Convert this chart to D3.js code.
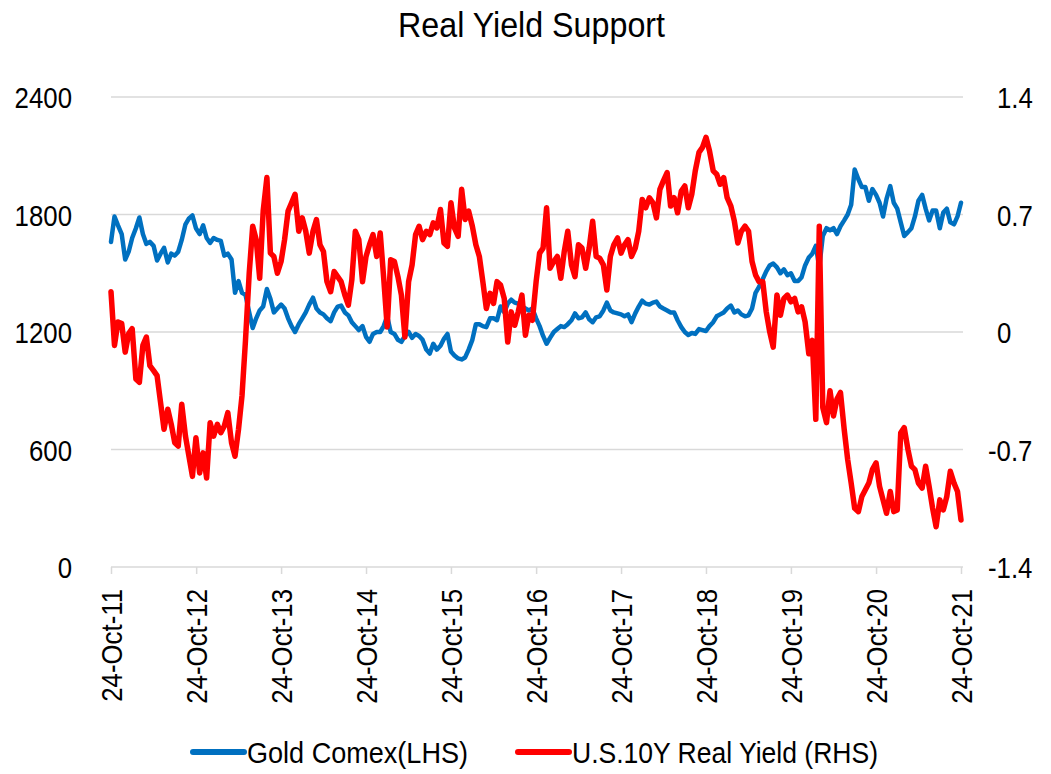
<!DOCTYPE html>
<html><head><meta charset="utf-8">
<script src="https://cdn.jsdelivr.net/npm/d3@7"></script>
<style>
body{margin:0;background:#fff;}
svg{display:block;}
text{font-family:"Liberation Sans",Arial,sans-serif;fill:#000;}
</style></head><body>
<svg id="c" width="1051" height="774"></svg>
<script>
const title = "Real Yield Support";
const xTickLabels = ["24-Oct-11","24-Oct-12","24-Oct-13","24-Oct-14","24-Oct-15","24-Oct-16","24-Oct-17","24-Oct-18","24-Oct-19","24-Oct-20","24-Oct-21"];
const leftTicks = [0, 600, 1200, 1800, 2400];
const rightTicks = [-1.4, -0.7, 0, 0.7, 1.4];
const seriesNames = ["Gold Comex(LHS)", "U.S.10Y Real Yield (RHS)"];
const startDate = "2011-10-24";
const endDate = "2021-10-24";

// semi-monthly readings, 24-Oct-2011 .. 24-Oct-2021
const gold = [
1660,1790,1745,1700,1570,1610,1680,1730,1785,1700,1650,1660,1640,1565,1600,1630,1555,1600,1590,1610,1670,1750,1780,1795,
1730,1700,1745,1680,1655,1680,1670,1665,1590,1600,1570,1400,1460,1400,1390,1300,1220,1270,1310,1330,1420,1370,1300,1320,
1340,1320,1270,1230,1200,1240,1270,1300,1340,1375,1320,1300,1290,1270,1255,1300,1330,1335,1300,1285,1250,1230,1210,1230,
1175,1150,1190,1200,1200,1230,1280,1200,1190,1160,1150,1180,1200,1170,1190,1180,1160,1110,1090,1140,1110,1130,1165,1190,
1100,1080,1065,1060,1070,1110,1160,1240,1240,1230,1225,1270,1270,1260,1330,1300,1345,1365,1350,1345,1330,1320,1310,1320,
1270,1230,1180,1140,1170,1200,1215,1230,1225,1240,1260,1295,1270,1275,1300,1265,1250,1275,1280,1310,1350,1310,1300,1295,
1290,1280,1290,1250,1295,1330,1360,1345,1340,1350,1355,1330,1320,1310,1300,1300,1260,1225,1200,1185,1195,1190,1215,1210,
1205,1230,1250,1280,1290,1300,1320,1335,1300,1310,1290,1280,1285,1320,1400,1430,1470,1510,1540,1550,1530,1500,1520,1490,
1500,1460,1460,1480,1540,1580,1600,1640,1530,1690,1730,1720,1730,1700,1740,1770,1800,1850,2030,1980,1940,1940,1870,1930,
1900,1860,1790,1880,1945,1860,1830,1760,1690,1710,1730,1790,1870,1900,1830,1770,1820,1820,1730,1810,1830,1760,1750,1790,
1860
];
const realYield = [
0.24,-0.08,0.06,0.05,-0.12,-0.01,0.02,-0.28,-0.30,-0.08,-0.03,-0.20,-0.23,-0.26,-0.42,-0.58,-0.46,-0.55,-0.66,-0.68,-0.43,-0.62,-0.74,-0.86,
-0.63,-0.84,-0.72,-0.87,-0.54,-0.62,-0.55,-0.60,-0.56,-0.48,-0.66,-0.74,-0.58,-0.38,-0.05,0.35,0.63,0.55,0.32,0.72,0.92,0.47,0.45,0.35,
0.42,0.55,0.72,0.77,0.82,0.60,0.68,0.60,0.47,0.60,0.67,0.52,0.48,0.30,0.24,0.36,0.33,0.30,0.22,0.16,0.31,0.60,0.55,0.30,
0.45,0.52,0.58,0.45,0.59,0.32,0.03,0.43,0.42,0.33,0.22,-0.03,0.30,0.40,0.58,0.63,0.55,0.60,0.58,0.65,0.62,0.73,0.53,0.51,
0.77,0.62,0.57,0.85,0.67,0.72,0.63,0.52,0.45,0.30,0.14,0.23,0.17,0.30,0.28,0.20,-0.06,0.12,0.04,0.12,0.22,-0.02,0.10,0.07,
0.30,0.47,0.50,0.74,0.38,0.42,0.45,0.32,0.48,0.60,0.40,0.33,0.52,0.50,0.38,0.50,0.66,0.45,0.44,0.40,0.25,0.45,0.52,0.56,
0.47,0.52,0.55,0.45,0.50,0.60,0.79,0.74,0.80,0.77,0.68,0.85,0.90,0.95,0.75,0.80,0.71,0.84,0.87,0.74,0.82,0.96,1.07,1.10,
1.16,1.08,0.96,0.94,0.88,0.92,0.80,0.75,0.66,0.53,0.60,0.63,0.60,0.42,0.34,0.30,0.30,0.12,0.00,-0.09,0.22,0.10,0.20,0.22,
0.18,0.20,0.12,0.15,0.06,-0.13,-0.05,-0.52,0.63,-0.45,-0.54,-0.35,-0.50,-0.40,-0.36,-0.58,-0.76,-0.90,-1.05,-1.07,-0.98,-0.94,-0.90,-0.82,
-0.78,-0.92,-1.00,-1.08,-0.95,-1.07,-1.06,-0.60,-0.57,-0.70,-0.80,-0.82,-0.90,-0.93,-0.80,-0.92,-1.05,-1.16,-1.00,-1.06,-0.98,-0.83,-0.90,-0.95,
-1.12
];

const parse = d3.timeParse("%Y-%m-%d");
const t0 = parse(startDate), t1 = parse(endDate);
const nSteps = gold.length - 1;
const totalDays = d3.timeDay.count(t0, t1);
const dates = gold.map((_, i) => d3.timeDay.offset(t0, Math.round(i * totalDays / nSteps)));
const tickDates = xTickLabels.map(s => d3.timeParse("%d-%b-%y")(s));

const SX = 0.86; // horizontal condensing of the label font
const svg = d3.select("#c");
const x = d3.scaleTime().domain([t0, t1]).range([111, 961]);
const yL = d3.scaleLinear().domain([0, 2400]).range([567, 97]);
const yR = d3.scaleLinear().domain([-1.4, 1.4]).range([567, 97]);

// title
svg.append("text").attr("x", 531.5).attr("y", 37).attr("text-anchor", "middle")
  .attr("font-size", 35).attr("textLength", 267).attr("lengthAdjust", "spacingAndGlyphs").text(title);

// gridlines
svg.append("g").selectAll("line").data(leftTicks).join("line")
  .attr("x1", 111).attr("x2", 963).attr("y1", d => yL(d)).attr("y2", d => yL(d))
  .attr("stroke", "#d9d9d9").attr("stroke-width", 1.5);

// left axis
const axL = svg.append("g").attr("transform", "translate(72,0)")
  .call(d3.axisLeft(yL).tickValues(leftTicks).tickSize(0).tickPadding(0).tickFormat(d => String(d)));
axL.select(".domain").remove();
axL.selectAll("text").attr("font-size", 30).attr("font-family", null).attr("x", 0).attr("dy", "0.35em")
  .attr("transform", `scale(${SX},1)`);

// right axis
const axR = svg.append("g").attr("transform", "translate(997,0)")
  .call(d3.axisRight(yR).tickValues(rightTicks).tickSize(0).tickPadding(0).tickFormat(d => String(d)));
axR.select(".domain").remove();
axR.selectAll("text").attr("font-size", 30).attr("font-family", null).attr("dy", "0.35em")
  .attr("x", d => d < 0 ? -9 / SX : 0).attr("transform", `scale(${SX},1)`);

// bottom axis
const axB = svg.append("g").attr("transform", "translate(0,567)")
  .call(d3.axisBottom(x).tickValues(tickDates).tickSize(7).tickFormat((d, i) => xTickLabels[i]));
axB.select(".domain").remove();
axB.selectAll(".tick line").attr("stroke", "#d9d9d9").attr("stroke-width", 1.5);
axB.selectAll("text").attr("font-size", 30).attr("font-family", null)
  .attr("transform", `rotate(-90) scale(${SX},1)`).attr("text-anchor", "end")
  .attr("x", -22 / SX).attr("y", 0).attr("dy", "0.36em");

// lines
const lineG = d3.line().x((d, i) => x(dates[i])).y(d => yL(d));
const lineR = d3.line().x((d, i) => x(dates[i])).y(d => yR(d));
svg.append("path").datum(gold).attr("d", lineG).attr("fill", "none")
  .attr("stroke", "#0070C0").attr("stroke-width", 4.5).attr("stroke-linejoin", "round").attr("stroke-linecap", "round");
svg.append("path").datum(realYield).attr("d", lineR).attr("fill", "none")
  .attr("stroke", "#FF0000").attr("stroke-width", 5.5).attr("stroke-linejoin", "round").attr("stroke-linecap", "round");

// legend
const legend = [
  {name: seriesNames[0], color: "#0070C0", x0: 193, w: 221},
  {name: seriesNames[1], color: "#FF0000", x0: 518, w: 306}
];
const lg = svg.append("g");
legend.forEach(l => {
  lg.append("line").attr("x1", l.x0).attr("x2", l.x0 + 51).attr("y1", 752).attr("y2", 752)
    .attr("stroke", l.color).attr("stroke-width", 6).attr("stroke-linecap", "round");
  lg.append("text").attr("x", l.x0 + 54).attr("y", 752).attr("dy", "0.35em")
    .attr("font-size", 30).attr("textLength", l.w).attr("lengthAdjust", "spacingAndGlyphs").text(l.name);
});
</script>
</body></html>
